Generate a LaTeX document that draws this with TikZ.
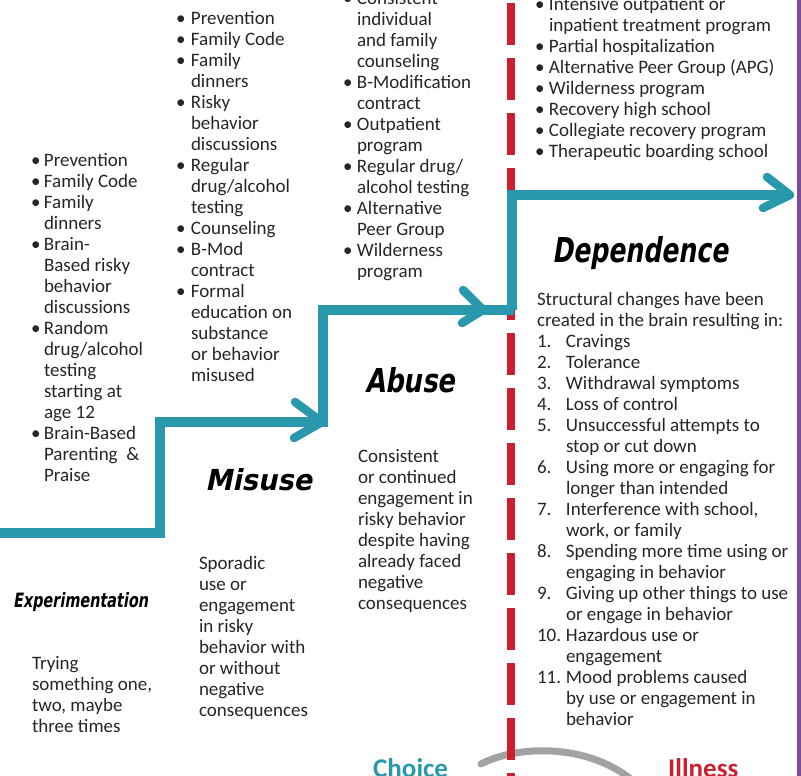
\documentclass[tikz,border=0pt]{standalone}
\usepackage{fontspec}
\usepackage{array}
\setmainfont{Carlito}
\newfontfamily\titlefont[FakeSlant=0.22]{DejaVu Sans}
\definecolor{stair}{HTML}{2A98AC}
\definecolor{dashred}{HTML}{CC1F2F}
\definecolor{purp}{HTML}{7A4C9C}
\definecolor{arcgrey}{HTML}{A2A2A2}
\definecolor{ink}{HTML}{262626}
\newcommand\bodyfont{\fontsize{19}{21}\selectfont}
\newcommand\ttl[3]{\resizebox{#1}{#2}{\titlefont\bfseries #3}}
\tikzset{
  col/.style={anchor=north west, inner sep=0pt, outer sep=0pt, font=\bodyfont, text=ink},
  ttlnode/.style={anchor=base west, inner sep=0pt, text=black},
  stairline/.style={draw=stair, line width=10pt, line join=miter},
  wing/.style={draw=stair, line width=8.5pt, line cap=round},
}
\begin{document}
\begin{tikzpicture}[x=1pt,y=-1pt]
\useasboundingbox (0,0) rectangle (801,776);
\fill[white] (0,0) rectangle (801,776);
\fill[purp] (797,0) rectangle (801,776);

% grey arc
\draw[arcgrey, line width=7pt, line cap=round] (481,764) .. controls (515,746) and (585,742) .. (632,780);

% red dashed divider
\draw[dashred, line width=7.5pt, dash pattern=on 42pt off 13pt, dash phase=52pt] (511,0) -- (511,780);

% staircase
\coordinate (a0) at (-5,533);
\coordinate (a1) at (160,533);
\coordinate (a2) at (160,422);
\coordinate (t1) at (322,422);
\coordinate (b0) at (323,427);
\coordinate (b1) at (323,310);
\coordinate (b2) at (514,310);
\coordinate (t2) at (483,310);
\coordinate (c0) at (512,310);
\coordinate (c1) at (512,195);
\coordinate (t3) at (790,195);
\draw[stairline] (a0) -- (a1) -- (a2) -- (t1);
\draw[wing] (t1) -- ++(-27,-20) (t1) -- ++(-28,16);
\draw[stairline] (b0) -- (b1) -- (b2);
\draw[wing] (t2) -- ++(-20,-20) (t2) -- ++(-21,13);
\draw[stairline] (c0) -- (c1) -- (t3);
\draw[wing] (t3) -- ++(-23,-18) (t3) -- ++(-27,13);

% column 1
\node[col] (c1list) at (31,152) {\begin{tabular}{@{}p{13pt}@{}l@{}}
• & Prevention\\
• & Family Code\\
• & Family\\
  & dinners\\
• & Brain-\\
  & Based risky\\
  & behavior\\
  & discussions\\
• & Random\\
  & drug/alcohol\\
  & testing\\
  & starting at\\
  & age 12\\
• & Brain-Based\\
  & Parenting\ \ \&\\
  & Praise
\end{tabular}};

% column 2
\node[col] (c2list) at (176,10) {\begin{tabular}{@{}p{15pt}@{}l@{}}
• & Prevention\\
• & Family Code\\
• & Family\\
  & dinners\\
• & Risky\\
  & behavior\\
  & discussions\\
• & Regular\\
  & drug/alcohol\\
  & testing\\
• & Counseling\\
• & B-Mod\\
  & contract\\
• & Formal\\
  & education on\\
  & substance\\
  & or behavior\\
  & misused
\end{tabular}};

% column 3
\node[col] (c3list) at (343,-10) {\begin{tabular}{@{}p{14pt}@{}l@{}}
• & Consistent\\
  & individual\\
  & and family\\
  & counseling\\
• & B-Modification\\
  & contract\\
• & Outpatient\\
  & program\\
• & Regular drug/\\
  & alcohol testing\\
• & Alternative\\
  & Peer Group\\
• & Wilderness\\
  & program
\end{tabular}};

% column 4
\node[col] (c4list) at (535,-4) {\begin{tabular}{@{}p{14pt}@{}l@{}}
• & Intensive outpatient or\\
  & inpatient treatment program\\
• & Partial hospitalization\\
• & Alternative Peer Group (APG)\\
• & Wilderness program\\
• & Recovery high school\\
• & Collegiate recovery program\\
• & Therapeutic boarding school
\end{tabular}};

% titles
\node[ttlnode] (tdep) at (552,262) {\ttl{176pt}{26pt}{Dependence}};
\node[ttlnode] (tabu) at (365,392) {\ttl{90pt}{25pt}{Abuse}};
\node[ttlnode] (tmis) at (205,490) {\ttl{107pt}{22pt}{Misuse}};
\node[ttlnode] (texp) at (13,607) {\ttl{135pt}{15pt}{Experimentation}};

% dependence description
\node[col] (deptext) at (537,291) {\begin{tabular}{@{}p{29pt}@{}l@{}}
\multicolumn{2}{@{}l@{}}{Structural changes have been}\\
\multicolumn{2}{@{}l@{}}{created in the brain resulting in:}\\
1. & Cravings\\
2. & Tolerance\\
3. & Withdrawal symptoms\\
4. & Loss of control\\
5. & Unsuccessful attempts to\\
   & stop or cut down\\
6. & Using more or engaging for\\
   & longer than intended\\
7. & Interference with school,\\
   & work, or family\\
8. & Spending more time using or\\
   & engaging in behavior\\
9. & Giving up other things to use\\
   & or engage in behavior\\
10. & Hazardous use or\\
   & engagement\\
11. & Mood problems caused\\
   & by use or engagement in\\
   & behavior
\end{tabular}};

% abuse description
\node[col] (abutext) at (358,448) {\begin{tabular}{@{}l@{}}
Consistent\\ or continued\\ engagement in\\ risky behavior\\ despite having\\ already faced\\ negative\\ consequences
\end{tabular}};

% misuse description
\node[col] (mistext) at (199,555) {\begin{tabular}{@{}l@{}}
Sporadic\\ use or\\ engagement\\ in risky\\ behavior with\\ or without\\ negative\\ consequences
\end{tabular}};

% experimentation description
\node[col] (exptext) at (32,655) {\begin{tabular}{@{}l@{}}
Trying\\ something one,\\ two, maybe\\ three times
\end{tabular}};

% choice / illness
\node[anchor=base west, inner sep=0pt, font=\fontsize{27}{30}\selectfont\bfseries, text=stair] (choice) at (373,777) {Choice};
\node[anchor=base west, inner sep=0pt, font=\fontsize{27}{30}\selectfont\bfseries, text=dashred] (illness) at (668,777) {Illness};
\end{tikzpicture}
\end{document}
